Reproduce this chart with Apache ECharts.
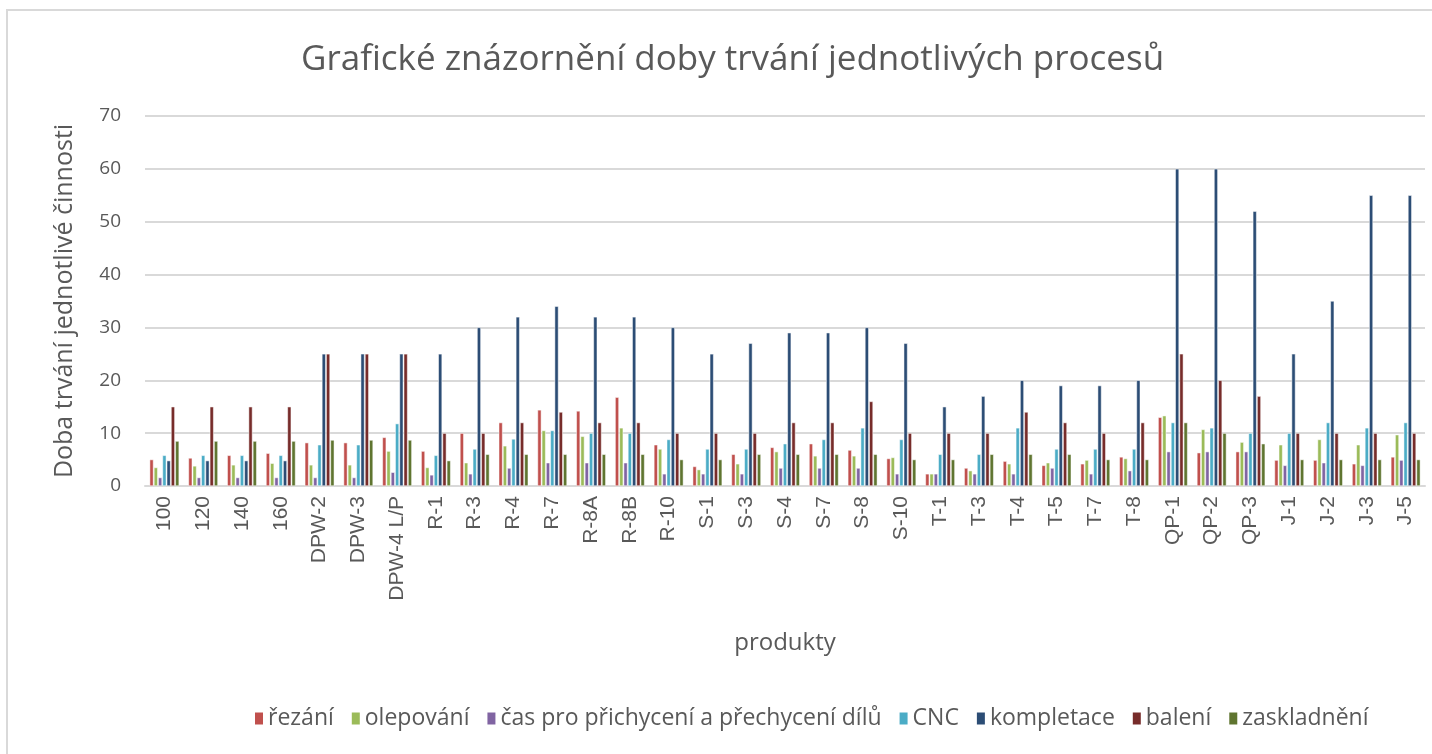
<!DOCTYPE html>
<html>
<head>
<meta charset="utf-8">
<script src="https://cdn.jsdelivr.net/npm/echarts@6/dist/echarts.min.js"></script>
<style>
  html, body { margin: 0; padding: 0; background: #fff; }
  #main { width: 1432px; height: 754px; }
</style>
</head>
<body>
<div id="main"></div>
<script>
var produkty = ["100", "120", "140", "160", "DPW-2", "DPW-3", "DPW-4 L/P", "R-1", "R-3", "R-4", "R-7",
    "R-8A", "R-8B", "R-10", "S-1", "S-3", "S-4", "S-7", "S-8", "S-10", "T-1", "T-3", "T-4", "T-5",
    "T-7", "T-8", "QP-1", "QP-2", "QP-3", "J-1", "J-2", "J-3", "J-5"];

var rezani = [5, 5.3, 5.8, 6.2, 8.2, 8.2, 9.2, 6.6, 10, 12, 14.4, 14.2, 16.8, 7.8, 3.7, 6, 7.3,
    8, 6.8, 5.2, 2.3, 3.4, 4.7, 3.9, 4.2, 5.5, 13, 6.3, 6.5, 4.9, 4.9, 4.2, 5.5];
var olepovani = [3.5, 3.8, 4, 4.3, 4, 4, 6.6, 3.5, 4.4, 7.6, 10.5, 9.4, 11, 7, 3.1, 4.2, 6.5,
    5.7, 5.7, 5.4, 2.3, 2.9, 4.2, 4.4, 4.9, 5.2, 13.3, 10.7, 8.3, 7.8, 8.8, 7.8, 9.7];
var prichyceni = [1.6, 1.6, 1.6, 1.6, 1.6, 1.6, 2.6, 2.1, 2.3, 3.4, 4.4, 4.4, 4.4, 2.3, 2.3, 2.3, 3.4,
    3.4, 3.4, 2.3, 2.3, 2.3, 2.3, 3.4, 2.3, 2.9, 6.5, 6.5, 6.5, 3.9, 4.4, 3.9, 4.9];
var cnc = [5.8, 5.8, 5.8, 5.8, 7.8, 7.8, 11.8, 5.8, 7, 8.9, 10.5, 10, 10, 8.8, 7, 7, 8,
    8.8, 11, 8.8, 6, 6, 11, 7, 7, 7, 12, 11, 10, 10, 12, 11, 12];
var kompletace = [4.8, 4.8, 4.8, 4.8, 25, 25, 25, 25, 30, 32, 34, 32, 32, 30, 25, 27, 29,
    29, 30, 27, 15, 17, 20, 19, 19, 20, 60, 60, 52, 25, 35, 55, 55];
var baleni = [15, 15, 15, 15, 25, 25, 25, 10, 10, 12, 14, 12, 12, 10, 10, 10, 12,
    12, 16, 10, 10, 10, 14, 12, 10, 12, 25, 20, 17, 10, 10, 10, 10];
var zaskladneni = [8.5, 8.5, 8.5, 8.5, 8.7, 8.7, 8.7, 4.8, 6, 6, 6, 6, 6, 5, 5, 6, 6,
    6, 6, 5, 5, 6, 6, 6, 5, 5, 12, 10, 8, 5, 5, 5, 5];

var nazvy = ["řezání", "olepování", "čas pro přichycení a přechycení dílů", "CNC",
    "kompletace", "balení", "zaskladnění"];
var barvy = ["#C0504D", "#9BBB59", "#8064A2", "#4BACC6", "#2C4D75", "#772C2A", "#5F7530"];
var hodnoty = [rezani, olepovani, prichyceni, cnc, kompletace, baleni, zaskladneni];

var textColor = "#595959";
var gridColor = "#D9D9D9";

var series = [];
for (var i = 0; i < nazvy.length; i++) {
    series.push({
        name: nazvy[i],
        type: "bar",
        data: hodnoty[i],
        barGap: "12%",
        barCategoryGap: "24%",
        itemStyle: { color: barvy[i], borderColor: "#fff", borderWidth: 0.5 }
    });
}

var myChart = echarts.init(document.getElementById("main"));

var option = {
    backgroundColor: "#fff",
    animation: false,
    color: barvy,
    title: {
        text: "Grafické znázornění doby trvání jednotlivých procesů",
        left: 296,
        top: 38,
        textStyle: { fontFamily: "Open Sans", fontSize: 35, fontWeight: "normal", color: textColor }
    },
    // ramecek kolem grafu
    graphic: [{
        type: "rect",
        shape: { x: 7, y: 10, width: 1440, height: 770 },
        style: { fill: "none", stroke: gridColor, lineWidth: 2 },
        silent: true
    }],
    legend: {
        data: nazvy,
        left: 248,
        top: 702,
        itemWidth: 10,
        itemHeight: 14,
        itemGap: 16,
        icon: "rect",
        textStyle: { fontFamily: "Open Sans", fontSize: 23, color: textColor, padding: [0, 0, 0, -1] }
    },
    grid: { left: 145, right: 7, top: 116, bottom: 268 },
    xAxis: {
        type: "category",
        data: produkty,
        name: "produkty",
        nameLocation: "middle",
        nameGap: 145,
        nameTextStyle: { fontFamily: "Open Sans", fontSize: 24, color: textColor },
        axisLine: { lineStyle: { color: gridColor, width: 2 } },
        axisTick: { show: false },
        axisLabel: {
            rotate: 90,
            interval: 0,
            margin: 10,
            fontFamily: "Liberation Sans",
            fontSize: 21,
            color: textColor
        }
    },
    yAxis: {
        type: "value",
        min: 0,
        max: 70,
        interval: 10,
        name: "Doba trvání jednotlivé činnosti",
        nameLocation: "middle",
        nameGap: 68,
        nameTextStyle: { fontFamily: "Open Sans", fontSize: 25, color: textColor },
        axisLine: { show: false },
        axisTick: { show: false },
        axisLabel: { margin: 24, fontFamily: "Open Sans", fontSize: 19, color: textColor },
        splitLine: { lineStyle: { color: gridColor, width: 2 } }
    },
    series: series
};

myChart.setOption(option);
</script>
</body>
</html>
